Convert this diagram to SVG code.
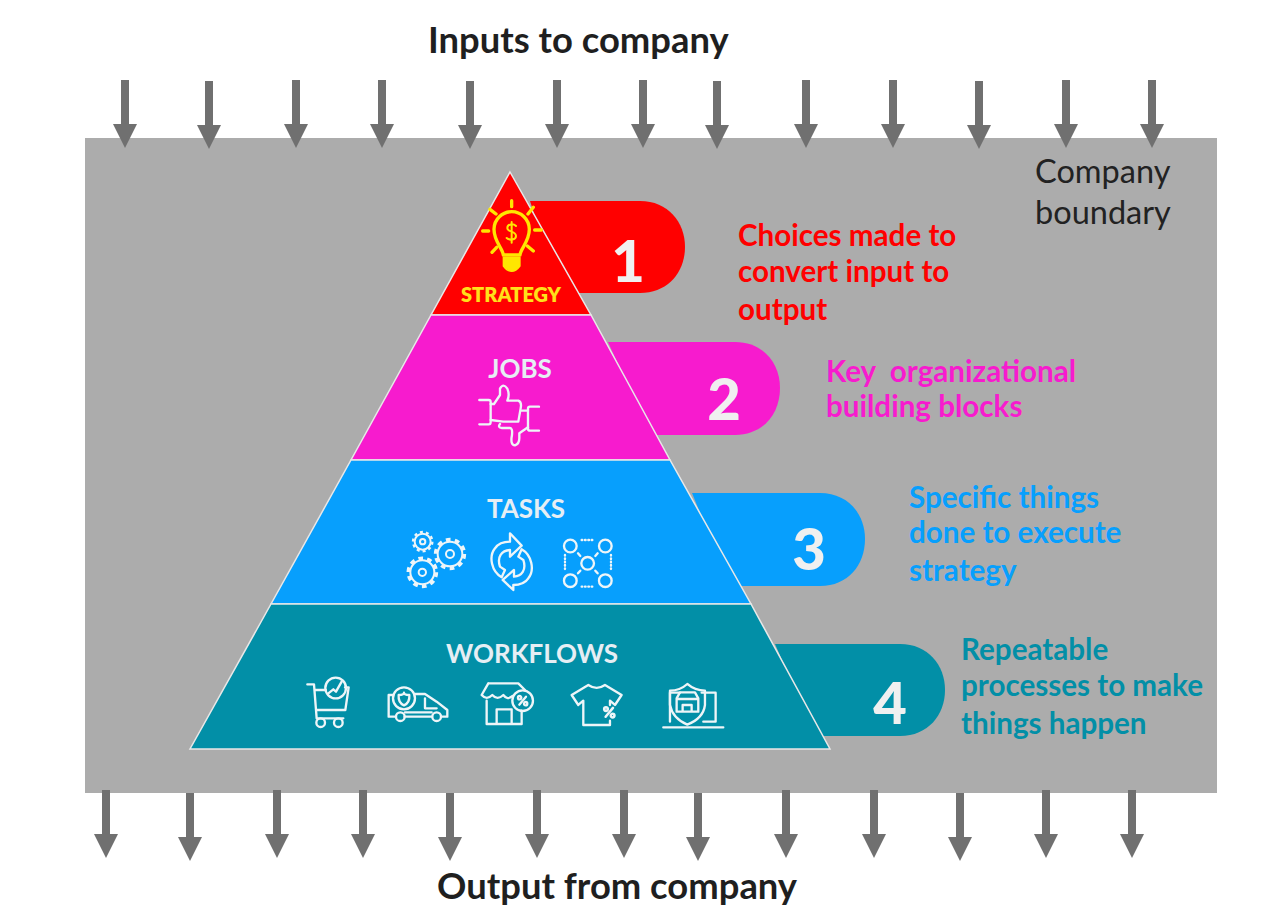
<svg xmlns="http://www.w3.org/2000/svg" width="1286" height="914" viewBox="0 0 1286 914">
<style>
text{font-family:Lato,"Open Sans","Liberation Sans",sans-serif}
.h{font-size:36.4px;font-weight:700;fill:#1f1f1f}
.b{font-size:32.5px;fill:#222}
.d{font-size:29.6px;font-weight:700}
.l{font-size:26px;font-weight:700;fill:#e6eef4;text-anchor:middle}
.n{font-size:58px;font-weight:900;fill:#f0f0f0;text-anchor:middle}
.i{fill:none;stroke:#eef5f8;stroke-width:7;stroke-linecap:round;stroke-linejoin:round}
.y{fill:none;stroke:#ffe600;stroke-width:10;stroke-linecap:round;stroke-linejoin:round}
.tier{stroke:#e8e8e8;stroke-width:1.5}
</style>
<defs>
<path id="arrow" d="M-4,0H4V44H12L0,68L-12,44H-4Z" fill="#707070"/>
<g id="pct"><path d="M-10,12L10,-12"/><circle cx="-9" cy="-9" r="5"/><circle cx="9" cy="9" r="5"/></g>
</defs>
<rect width="1286" height="914" fill="#fff"/>
<rect id="boundary" x="85" y="138" width="1132" height="655" fill="#acacac"/>
<g id="connectors">
<use href="#arrow" x="125" y="80"/><use href="#arrow" x="209" y="81"/><use href="#arrow" x="296" y="80"/><use href="#arrow" x="382" y="80"/><use href="#arrow" x="470" y="81"/><use href="#arrow" x="557" y="80"/><use href="#arrow" x="643" y="80"/><use href="#arrow" x="717" y="81"/><use href="#arrow" x="806" y="80"/><use href="#arrow" x="893" y="80"/><use href="#arrow" x="979" y="81"/><use href="#arrow" x="1066" y="80"/><use href="#arrow" x="1152" y="80"/>
<use href="#arrow" x="106" y="790"/><use href="#arrow" x="190" y="793"/><use href="#arrow" x="277" y="790"/><use href="#arrow" x="363" y="790"/><use href="#arrow" x="450" y="793"/><use href="#arrow" x="537" y="790"/><use href="#arrow" x="624" y="790"/><use href="#arrow" x="698" y="793"/><use href="#arrow" x="786" y="790"/><use href="#arrow" x="874" y="790"/><use href="#arrow" x="960" y="793"/><use href="#arrow" x="1046" y="790"/><use href="#arrow" x="1132" y="790"/>
</g>
<text class="h" x="428" y="53">Inputs to company</text>
<text class="h" x="437" y="899">Output from company</text>
<g id="company-boundary-label"><text class="b" x="1035" y="183">Company</text><text class="b" x="1035" y="224">boundary</text></g>

<g id="tab-1"><path d="M530,201H640C668,201 685,222 685,247C685,272 668,293 640,293H560Z" fill="#ff0000"/><text class="n" x="628" y="282">1</text></g>
<g id="tab-2"><path d="M608,342H735C763,342 780,363 780,388C780,414 763,435 735,435H650Z" fill="#f71bce"/><text class="n" x="724" y="420">2</text></g>
<g id="tab-3"><path d="M692,493H820C848,493 865,514 865,539C865,565 848,586 820,586H730Z" fill="#079ffd"/><text class="n" x="809" y="570">3</text></g>
<g id="tab-4"><path d="M775,644H900C928,644 945,665 945,690C945,715 928,736 900,736H815Z" fill="#028fa7"/><text class="n" x="890" y="724">4</text></g>

<g id="strategy">
<polygon class="tier" points="510,172 591,315 431,315" fill="#ff0000"/>
<g transform="translate(420 160) scale(.3333)" class="y">
<path d="M250,285C248,265 222,245 222,208C222,178 247,155 275,155C303,155 328,178 328,208C328,245 302,265 300,285Z"/>
<path d="M250,292H300V318Q288,334 275,334Q262,334 250,318Z" fill="#ffe600" stroke-width="4"/>
<path d="M275,122V140M210,148L228,162M340,142L324,162M188,213H206M344,210H364M216,277L230,262M340,273L322,258"/>
<path d="M288,198C280,190 262,192 262,204C262,218 288,212 288,228C288,240 268,242 260,234M275,186V248" stroke-width="6"/>
</g>
<text x="511" y="302" text-anchor="middle" font-size="20" font-weight="800" fill="#ffe01a">STRATEGY</text>
</g>

<g id="jobs">
<polygon class="tier" points="431,315 591,315 670,460 351,460" fill="#f71bce"/>
<text class="l" x="520" y="378">JOBS</text>
<g transform="translate(390 340) scale(.3333)" class="i">
<path d="M268,180H296Q302,180 302,186V246Q302,253 296,253H268"/>
<path d="M447,200H420Q414,200 414,206V266Q414,272 420,272H447"/>
<path d="M302,192H312L330,165V146Q340,128 352,146Q360,165 352,182H385Q396,186 392,205L385,245H340L302,240"/>
<path d="M414,212H396M330,252Q322,262 336,264H360Q368,264 366,285Q360,315 375,316Q388,312 388,295V280L414,262"/>
</g>
</g>

<g id="tasks">
<polygon class="tier" points="351,460 670,460 751,604 271,604" fill="#079ffd"/>
<text class="l" x="526" y="518">TASKS</text>
<g transform="translate(390 340) scale(.3333)" class="i">
<g stroke-width="6"><circle cx="180" cy="642" r="37"/><circle cx="180" cy="642" r="43" stroke-width="11" stroke-linecap="butt" stroke-dasharray="14 13"/><circle cx="180" cy="642" r="12"/>
<circle cx="97" cy="697" r="36"/><circle cx="97" cy="697" r="42" stroke-width="11" stroke-linecap="butt" stroke-dasharray="14 12.4"/><circle cx="97" cy="697" r="11"/>
<circle cx="98" cy="605" r="24"/><circle cx="98" cy="605" r="29" stroke-width="7" stroke-linecap="butt" stroke-dasharray="9 9.2"/><circle cx="98" cy="605" r="8"/></g>
<path d="M335,712C305,695 295,650 315,625C325,610 345,605 360,605V580L395,617L360,650V630C335,632 320,650 330,680L345,690Z"/>
<path d="M395,628C425,645 435,690 415,715C405,730 385,735 370,735V750L338,720L372,690V710C395,708 410,690 400,660L385,650Z"/>
<circle cx="541" cy="618" r="19"/><circle cx="646" cy="618" r="19"/><circle cx="541" cy="722" r="19"/><circle cx="646" cy="722" r="19"/><circle cx="593" cy="670" r="19"/>
<path d="M564,640L571,648M623,640L616,648M564,700L571,692M623,700L616,692"/>
<path stroke-dasharray="2 8" d="M575,600H615M575,740H615M525,645V695M663,645V695"/>
</g>
</g>

<g id="workflows">
<polygon class="tier" points="271,604 751,604 830,749 190,749" fill="#028fa7"/>
<text class="l" x="532" y="663">WORKFLOWS</text>
<g transform="translate(290 630) scale(.3333)" class="i">
<g id="icon-cart"><path d="M52,163H72L80,265H160M76,180H107M165,172H176L166,240H78"/><circle cx="92" cy="278" r="13"/><circle cx="145" cy="278" r="13"/><circle cx="137" cy="174" r="31"/><path d="M115,190L130,178L138,185L155,155"/></g>
<g id="icon-van"><circle cx="342" cy="205" r="33"/><path d="M326,195Q342,195 342,188Q342,195 358,195Q360,218 342,226Q324,218 326,195Z"/><path d="M308,195H296V260H318M344,260H426M454,260H472V240L440,215L405,192H375M405,205V235H440M345,247H425"/><circle cx="331" cy="260" r="13"/><circle cx="440" cy="260" r="13"/></g>
<g id="icon-store"><path d="M595,160H685L705,180M595,160L575,195Q590,212 607,195Q622,212 640,195Q652,212 668,198M590,212V282H695V242M620,282V238H665V282"/><circle cx="698" cy="212" r="31"/><use href="#pct" x="698" y="212"/></g>
<g id="icon-shirt"><path d="M960,225V212L975,225L995,195L945,165Q920,182 895,165L845,195L865,225L880,212V285H960V272"/><use href="#pct" transform="translate(958 247) scale(1.1)"/></g>
<g id="icon-shield"><path d="M1120,292H1300M1140,275V188H1170M1235,188H1277V275H1240"/><path d="M1192,162Q1215,182 1245,182V225Q1240,265 1192,284Q1148,265 1140,225V182Q1170,182 1192,162Z"/><path d="M1160,205L1170,187H1215L1225,205V245H1160ZM1160,207H1225M1178,245V225H1205V245"/></g>
</g>
</g>

<g id="desc-1" class="d" fill="#ff0000"><text x="738" y="246">Choices made to</text><text x="738" y="282">convert input to</text><text x="738" y="320">output</text></g>
<g id="desc-2" class="d" fill="#f71bce"><text x="826" y="382" xml:space="preserve">Key  organizational</text><text x="826" y="417">building blocks</text></g>
<g id="desc-3" class="d" fill="#079ffd"><text x="909" y="508">Specific things</text><text x="909" y="543">done to execute</text><text x="909" y="581">strategy</text></g>
<g id="desc-4" class="d" fill="#028fa7"><text x="961" y="660">Repeatable</text><text x="961" y="696">processes to make</text><text x="961" y="734">things happen</text></g>
</svg>
